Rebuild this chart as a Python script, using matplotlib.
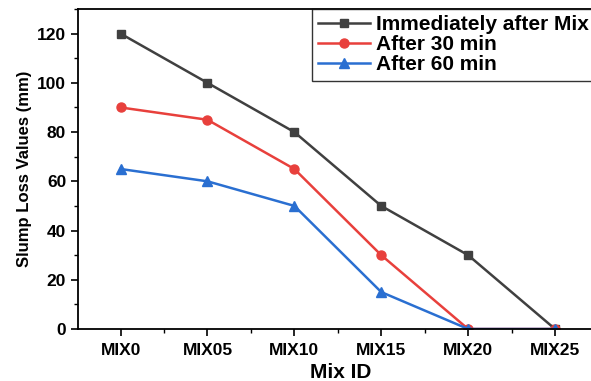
import matplotlib
matplotlib.use("Agg")
import matplotlib.pyplot as plt
from matplotlib.ticker import MultipleLocator

plt.rcParams['font.family'] = ['Liberation Sans', 'DejaVu Sans']
plt.rcParams['font.weight'] = 'bold'

mix_ids = ["MIX0", "MIX05", "MIX10", "MIX15", "MIX20", "MIX25"]
immediate = [120, 100, 80, 50, 30, 0]
after30 = [90, 85, 65, 30, 0, 0]
after60 = [65, 60, 50, 15, 0, 0]

fig = plt.figure(figsize=(5.91, 3.81), dpi=100)
W = 1.02 - 78/591
ax = fig.add_axes([78/591, 1-329/381, W, (329-9)/381])

x = list(range(len(mix_ids)))
ax.plot(x, immediate, color='#404040', marker='s', markersize=6, lw=1.8, label='Immediately after Mix')
ax.plot(x, after30, color='#e8403c', marker='o', markersize=6.5, lw=1.8, label='After 30 min')
ax.plot(x, after60, color='#2a6fd1', marker='^', markersize=6.5, lw=1.8, label='After 60 min')

ax.set_xlim(-0.49, 5.55)
ax.set_ylim(0, 130)
ax.set_xticks(x)
ax.set_xticklabels(mix_ids)
ax.yaxis.set_major_locator(MultipleLocator(20))
ax.yaxis.set_minor_locator(MultipleLocator(10))
ax.xaxis.set_minor_locator(MultipleLocator(0.5))
ax.tick_params(axis='both', which='major', direction='out', length=5, width=1.2, labelsize=12.5)
ax.tick_params(axis='x', which='major', pad=5)
ax.tick_params(axis='both', which='minor', direction='out', length=3, width=1.0)
for s in ['left', 'bottom', 'top']:
    ax.spines[s].set_linewidth(1.3)
ax.spines['right'].set_visible(False)

ax.set_xlabel('Mix ID', fontsize=15, fontweight='bold', labelpad=4)
ax.set_ylabel('Slump Loss Values (mm)', fontsize=12, fontweight='bold', labelpad=4)

fig_w = 591
leg = ax.legend(loc='upper left', bbox_to_anchor=((312-78)/(W*fig_w), 1.0),
                frameon=True, fancybox=False, edgecolor='black', fontsize=15,
                handlelength=2.5, borderpad=0.3, labelspacing=0.05, handletextpad=0.25,
                borderaxespad=0)
leg.get_frame().set_linewidth(1.0)
for t in leg.get_texts():
    t.set_fontweight('bold')

fig.savefig('out.png', dpi=100)
